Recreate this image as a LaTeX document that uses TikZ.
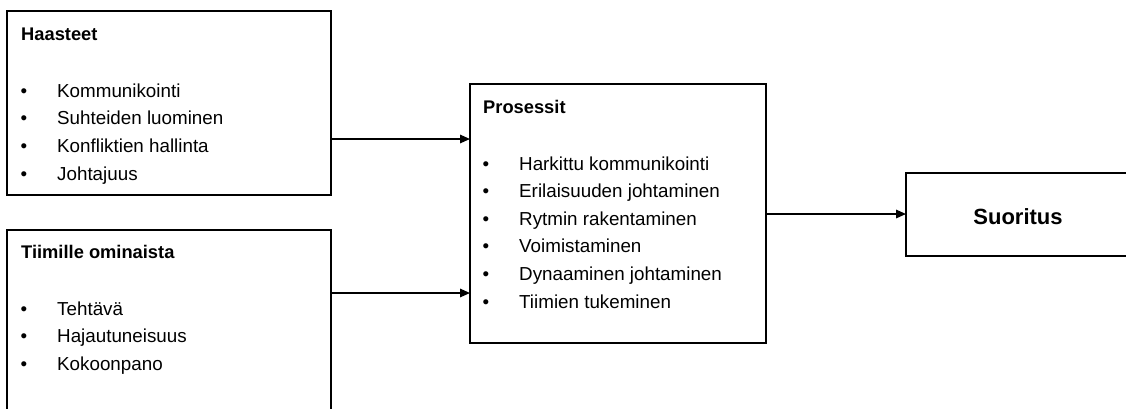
\documentclass[tikz,border=0pt]{standalone}
\usepackage{fontspec}
\setmainfont{Liberation Sans}
\usetikzlibrary{arrows.meta}
\begin{document}
\begin{tikzpicture}[x=1pt,y=-1pt,
 box/.style={draw, line width=1.6pt, inner sep=0pt, outer sep=0pt, rectangle, anchor=north west},
 ttl/.style={anchor=base west, inner sep=0pt, font=\fontsize{18.3}{22}\selectfont\bfseries},
 itm/.style={anchor=base west, inner sep=0pt, font=\fontsize{18.8}{22}\selectfont},
 bul/.style={anchor=base, inner sep=0pt, font=\fontsize{18.8}{22}\selectfont},
 arr/.style={line width=1.6pt, -{Triangle[length=10pt,width=8.5pt]}}]
\clip (0,0) rectangle (1126,408);
\fill[white] (0,0) rectangle (1126,408);
% boxes
\node[box, minimum width=324pt, minimum height=184pt] (h) at (7,11) {};
\node[box, minimum width=324pt, minimum height=200pt] (t) at (7,230) {};
\node[box, minimum width=296pt, minimum height=259pt] (p) at (470,84) {};
\node[box, minimum width=240pt, minimum height=83pt] (s) at (906,173) {};
% titles
\node[ttl] (ht) at (21,40) {Haasteet};
\node[ttl] (tt) at (21,258) {Tiimille ominaista};
\node[ttl] (pt) at (483,113) {Prosessit};
\node[anchor=base, inner sep=0pt, font=\fontsize{22}{26}\selectfont\bfseries] (st) at (1018,224) {Suoritus};
% lists
\foreach \txt [count=\i] in {Kommunikointi,Suhteiden luominen,Konfliktien hallinta,Johtajuus}{
  \node[bul] (hb\i) at (24,{97+27.7*(\i-1)}) {•};
  \node[itm] (hi\i) at (57,{97+27.7*(\i-1)}) {\txt};
}
\foreach \txt [count=\i] in {Tehtävä,Hajautuneisuus,Kokoonpano}{
  \node[bul] (tb\i) at (24,{315+27.6*(\i-1)}) {•};
  \node[itm] (ti\i) at (57,{315+27.6*(\i-1)}) {\txt};
}
\foreach \txt [count=\i] in {Harkittu kommunikointi,Erilaisuuden johtaminen,Rytmin rakentaminen,Voimistaminen,Dynaaminen johtaminen,Tiimien tukeminen}{
  \node[bul] (pb\i) at (486,{170+27.6*(\i-1)}) {•};
  \node[itm] (pi\i) at (519,{170+27.6*(\i-1)}) {\txt};
}
% connectors
\draw[arr] (h.east |- 0,139) -- (p.west |- 0,139);
\draw[arr] (t.east |- 0,293) -- (p.west |- 0,293);
\draw[arr] (p.east |- 0,214) -- (s.west |- 0,214);
\end{tikzpicture}
\end{document}
